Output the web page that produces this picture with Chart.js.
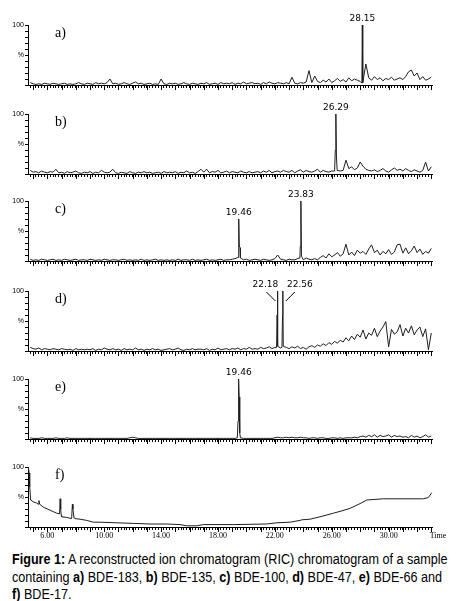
<!DOCTYPE html>
<html>
<head>
<meta charset="utf-8">
<script src="https://cdn.jsdelivr.net/npm/chart.js@4.4.1/dist/chart.umd.min.js"></script>
<style>
  body { margin: 0; background: #fff; width: 464px; height: 601px; position: relative; overflow: hidden; }
  canvas { position: absolute; left: 0; }
  #caption {
    position: absolute; left: 12px; top: 551px; white-space: nowrap;
    font-family: "Liberation Sans", Arial, sans-serif; font-size: 14px; line-height: 17.5px; color: #000;
    transform: scaleX(0.9); transform-origin: 0 0;
  }
</style>
</head>
<body>
<div id="caption"><b>Figure 1:</b> A reconstructed ion chromatogram (RIC) chromatogram of a sample<br>containing <b>a)</b> BDE-183, <b>b)</b> BDE-135, <b>c)</b> BDE-100, <b>d)</b> BDE-47, <b>e)</b> BDE-66 and<br><b>f)</b> BDE-17.</div>
<script>
/* RIC chromatograms, six stacked panels */

// time axis (min)
const xMin = 4.64, xMax = 33.05;
const gridStart = 4.8, gridStep = 0.2;   // sampling of the noise traces
const xLabelValues = [6, 10, 14, 18, 22, 26, 30];
const panelNames = ['a)', 'b)', 'c)', 'd)', 'e)', 'f)'];

// a) BDE-183
const aNoise = [
  4,2,1,2,1,3,2,1,3,2,  1,2,3,1,2,1,2,4,2,1,  3,2,1,4,2,3,2,4,10,2,
  3,1,2,4,2,1,3,5,2,3,  1,2,3,1,2,1,10,2,1,3,  2,3,1,2,4,2,1,3,2,1,
  3,2,4,1,2,3,1,4,2,3,  2,4,1,3,2,5,2,3,4,2,  3,1,4,2,5,3,2,4,3,2,
  4,2,13,3,2,4,3,5,24,4,  15,6,4,8,5,10,4,7,11,6,  9,5,12,7,10,8,6,10,35,12,
  8,14,9,12,7,11,9,13,8,10,  12,9,14,22,25,15,20,9,14,8,  10,13
];
const aPeakX = [28.12, 28.15, 28.18];
const aPeakY = [3, 100, 4];
const aLabelTimes = [28.15];

// b) BDE-135
const bNoise = [
  6,3,4,2,5,3,2,4,3,8,  2,3,1,4,2,3,5,2,1,3,  2,4,1,3,2,6,3,2,3,8,
  2,1,3,2,1,4,2,1,3,2,  4,2,3,1,2,3,1,4,2,3,  2,4,1,3,2,5,2,3,1,4,
  8,3,8,2,4,3,6,2,3,5,  2,4,3,2,5,3,2,4,2,3,  4,2,5,3,6,2,4,5,3,6,
  4,3,6,2,5,7,3,6,4,3,  5,8,3,6,4,3,5,4,10,5,  6,23,9,12,7,10,20,13,8,6,
  5,7,4,6,9,5,3,7,10,6,  8,5,9,6,4,7,5,3,6,20,  5,12
];
const bPeakX = [26.20, 26.25, 26.29, 26.33, 26.38];
const bPeakY = [5, 40, 100, 30, 6];
const bLabelTimes = [26.29];

// c) BDE-100
const cNoise = [
  3,1,2,1,3,2,1,2,3,1,  2,1,3,2,1,2,3,1,2,2,  1,3,2,1,2,1,3,2,1,2,
  2,1,2,3,1,2,1,2,1,3,  1,2,1,2,3,1,2,1,2,1,  2,1,3,1,2,2,1,3,1,2,
  1,2,3,1,2,1,2,3,1,2,  2,3,4,3,4,2,3,1,2,3,  2,1,3,2,1,2,4,10,3,2,
  1,3,2,2,4,3,2,5,3,2,  4,2,6,9,5,12,7,10,14,8,  12,28,10,15,9,18,13,16,11,20,
  27,14,18,10,16,12,19,11,15,27,  28,13,22,12,17,25,14,20,11,16,  13,21
];
const cPeakX = [19.42, 19.46, 19.50, 19.55, 19.58, 23.76, 23.79, 23.83, 23.87];
const cPeakY = [6, 70, 25, 22, 5, 5, 25, 100, 8];
const cLabelTimes = [19.46, 23.83];

// d) BDE-47
const dNoise = [
  6,4,3,5,2,4,3,2,4,3,  2,4,3,2,3,1,4,2,3,2,  3,2,4,1,3,2,5,3,2,4,
  2,3,1,4,2,3,2,5,2,3,  1,3,2,4,2,3,1,2,3,4,  2,3,5,2,1,3,2,4,2,3,
  3,2,4,1,3,2,5,2,3,4,  2,4,3,5,2,4,3,6,3,4,  3,6,4,5,7,4,6,8,5,7,
  6,4,7,5,8,4,6,3,7,9,  6,10,8,12,9,14,11,16,13,18,  15,22,17,25,19,28,23,35,20,30,
  26,38,24,33,40,49,7,36,28,32,  44,25,38,30,42,27,35,40,24,37,  2,30
];
const dPeakX = [22.12, 22.16, 22.18, 22.21, 22.50, 22.54, 22.56, 22.59];
const dPeakY = [6, 60, 100, 8, 6, 60, 100, 8];
const dLabelTimes = [22.18, 22.56];

// e) BDE-66
const eNoise = [
  2,1,1,1,2,1,1,1,1,2,  1,1,1,2,1,1,1,1,1,1,  1,1,1,1,1,1,1,1,1,1,
  1,1,1,1,1,2,3,2,1,1,  1,1,1,1,1,1,1,1,1,1,  1,1,1,1,1,1,1,1,1,1,
  1,1,1,1,1,1,1,1,1,1,  1,1,1,1,1,1,1,1,1,1,  1,1,1,1,1,1,2,3,2,2,
  3,2,3,2,2,3,2,2,1,2,  2,1,2,2,1,1,2,2,1,2,  1,2,2,2,3,2,4,5,3,6,
  4,7,3,6,4,5,7,3,6,4,  5,3,4,2,6,3,5,2,4,7,  3,5
];
const ePeakX = [19.36, 19.41, 19.44, 19.46, 19.49, 19.53, 19.58];
const ePeakY = [2, 30, 85, 100, 70, 10, 2];
const eLabelTimes = [19.46];

// f) BDE-17 (smooth trace, own sampling)
const fTimes = [
  4.66, 4.69, 4.72, 4.76, 4.83, 5.01, 5.25, 5.36, 5.41, 5.46, 5.72, 6.19, 6.66, 6.86,
  6.90, 6.94, 6.98, 7.01, 7.36, 7.71, 7.76, 7.80, 7.88, 7.95, 8.30, 8.77, 9.23, 9.70,
  10.88, 12.05, 13.22, 14.39, 15.33, 15.80, 16.50, 16.97, 19.08, 21.43, 22.13, 23.07,
  23.77, 23.90, 24.47, 25.17, 26.11, 26.58, 27.28, 27.99, 28.46, 29.63, 30.80, 32.44,
  32.79, 33.03
];
const fValues = [
  100, 100, 90, 67, 45, 42, 40, 38, 44, 38, 33, 28, 23, 22,
  47, 30, 19, 17, 16, 14, 38, 30, 15, 14, 13, 11, 8, 8,
  7, 6, 5, 5, 4, 2, 2, 4, 4, 5, 7, 8,
  11, 12, 13, 17, 23, 26, 31, 39, 45, 47, 47, 47,
  49, 57
];

// layout
const panelTops = [25, 114, 201, 291, 379, 467];
const plotH = 60, padTop = 22;

// merge a noise trace with its peak points (grid points under a peak are dropped)
function buildSeries(noise, peakX, peakY) {
  const pts = [];
  noise.forEach((v, i) => {
    const t = Math.round((gridStart + i * gridStep) * 100) / 100;
    if (!peakX.some(p => Math.abs(p - t) < 0.06)) pts.push({ x: t, y: v });
  });
  peakX.forEach((p, i) => pts.push({ x: p, y: peakY[i] }));
  return pts.sort((a, b) => a.x - b.x);
}

function peakHeights(times, peakX, peakY) {
  return times.map(t => peakY[peakX.findIndex(p => Math.abs(p - t) < 1e-6)]);
}

const xTicks = [];
for (let i = 0; gridStart + i * gridStep <= 33.0001; i++) {
  xTicks.push(Math.round((gridStart + i * gridStep) * 10) / 10);
}

const annotate = {
  id: 'annotate',
  afterDatasetsDraw(chart, args, opts) {
    const { ctx, chartArea, scales: { x, y } } = chart;
    ctx.save();
    ctx.strokeStyle = '#000';
    ctx.lineWidth = 1;

    // longer tick at each whole minute
    ctx.beginPath();
    for (let m = 5; m <= 33; m++) {
      const px = Math.round(x.getPixelForValue(m)) + 0.5;
      ctx.moveTo(px, chartArea.bottom);
      ctx.lineTo(px, chartArea.bottom + 5);
    }
    ctx.stroke();

    // peak retention times
    ctx.fillStyle = '#000';
    ctx.font = '9px "DejaVu Sans"';
    ctx.textAlign = 'center';
    ctx.textBaseline = 'alphabetic';
    (opts.times || []).forEach((t, i) => {
      const px = x.getPixelForValue(t);
      const py = y.getPixelForValue(opts.heights[i]);
      const dx = opts.shift ? opts.shift[i] : 0;
      ctx.fillText(t.toFixed(2), px + dx, py - 4);
      if (opts.shift) {
        const s = Math.sign(dx);
        ctx.beginPath();
        ctx.moveTo(px + s * (s < 0 ? 11 : 12), py + 1);
        ctx.lineTo(px + s * (s < 0 ? 2 : 3), py + 10);
        ctx.stroke();
      }
    });

    // panel letter
    ctx.font = '14px "Liberation Serif"';
    ctx.textAlign = 'left';
    ctx.textBaseline = 'middle';
    ctx.fillText(opts.name, chartArea.left + 27, chartArea.top + 8);

    if (opts.timeLabel) {
      ctx.font = '8px "Liberation Serif"';
      ctx.textAlign = 'center';
      ctx.textBaseline = 'top';
      ctx.fillText('Time', chartArea.right + 6, chartArea.bottom + 5);
    }
    ctx.restore();
  }
};

function makeChart(k, points, labelOpts) {
  const showX = k === 5;
  const canvas = document.createElement('canvas');
  canvas.width = 464;
  canvas.height = padTop + plotH + (showX ? 22 : 8);
  canvas.style.top = (panelTops[k] - padTop) + 'px';
  document.body.appendChild(canvas);

  return new Chart(canvas, {
    type: 'line',
    data: {
      datasets: [{
        data: points,
        borderColor: '#1e1e1e',
        borderWidth: 1,
        pointRadius: 0,
        tension: 0,
        clip: 3,
      }],
    },
    options: {
      responsive: false,
      animation: false,
      layout: { padding: { top: padTop, right: 32, left: 0, bottom: 0 } },
      plugins: {
        legend: { display: false },
        tooltip: { enabled: false },
        annotate: Object.assign({ name: panelNames[k], timeLabel: showX }, labelOpts),
      },
      scales: {
        x: {
          type: 'linear',
          min: xMin,
          max: xMax,
          afterBuildTicks: s => { s.ticks = xTicks.map(v => ({ value: v })); },
          afterFit: s => { s.height = showX ? 22 : 8; },
          ticks: {
            autoSkip: false,
            maxRotation: 0,
            padding: 1,
            color: '#000',
            font: { family: 'Liberation Serif', size: 8 },
            callback: v => (showX && xLabelValues.some(l => Math.abs(l - v) < 1e-6)) ? v.toFixed(2) : '',
          },
          grid: { drawOnChartArea: false, tickLength: 3, color: '#000' },
          border: { color: '#000', width: 1 },
        },
        y: {
          min: 0,
          max: 100,
          afterFit: s => { s.width = 28; },
          ticks: {
            stepSize: 10,
            autoSkip: false,
            padding: 1,
            color: '#000',
            font: { family: 'Liberation Sans', size: 7 },
            callback: v => v === 100 ? '100' : (v === 50 ? '%' : ''),
          },
          grid: { drawOnChartArea: false, tickLength: 3, color: '#000' },
          border: { color: '#000', width: 1 },
        },
      },
    },
    plugins: [annotate],
  });
}

makeChart(0, buildSeries(aNoise, aPeakX, aPeakY),
  { times: aLabelTimes, heights: peakHeights(aLabelTimes, aPeakX, aPeakY) });
makeChart(1, buildSeries(bNoise, bPeakX, bPeakY),
  { times: bLabelTimes, heights: peakHeights(bLabelTimes, bPeakX, bPeakY) });
makeChart(2, buildSeries(cNoise, cPeakX, cPeakY),
  { times: cLabelTimes, heights: peakHeights(cLabelTimes, cPeakX, cPeakY) });
makeChart(3, buildSeries(dNoise, dPeakX, dPeakY),
  { times: dLabelTimes, heights: peakHeights(dLabelTimes, dPeakX, dPeakY), shift: [-12, 17] });
makeChart(4, buildSeries(eNoise, ePeakX, ePeakY),
  { times: eLabelTimes, heights: peakHeights(eLabelTimes, ePeakX, ePeakY) });
makeChart(5, fTimes.map((t, i) => ({ x: t, y: fValues[i] })), {});
</script>
</body>
</html>
